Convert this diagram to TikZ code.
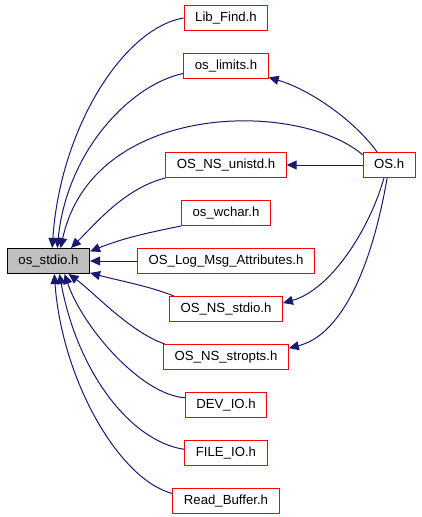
\documentclass[tikz,border=0pt]{standalone}
\usepackage{fontspec}
\setmainfont{Liberation Sans}
\usepackage{xcolor}
\usepackage{tikz}
\usetikzlibrary{arrows.meta,positioning}
\definecolor{edgeblue}{HTML}{191970}
\definecolor{boxgray}{HTML}{BFBFBF}

\begin{document}
\begin{tikzpicture}[
  x=0.75pt, y=-0.75pt,
  node distance=16.5pt,
  every node/.style={font=\fontsize{9.9pt}{12pt}\selectfont,
                     text height=7.2pt, text depth=2.4pt},
  box/.style={draw=red, line width=0.75pt, inner xsep=8.25pt,
              minimum height=18.75pt},
  mainbox/.style={draw=black, fill=boxgray, line width=0.75pt,
                  inner xsep=8.25pt, minimum height=18.75pt},
  edge/.style={draw=edgeblue, line width=0.75pt,
               -{Triangle[length=7.5pt, width=6.75pt]}}
]
  \useasboundingbox (0,0) rectangle (421,517);

  % --- middle column -----------------------------------------------
  \node[box] (libfind) at (226,18) {Lib\_Find.h};
  \node[box, below=of libfind]         (oslimits) {os\_limits.h};
  \node[box, below=54.75pt of oslimits] (unistd)  {OS\_NS\_unistd.h};
  \node[box, below=of unistd]  (wchar)   {os\_wchar.h};
  \node[box, below=of wchar]   (logmsg)  {OS\_Log\_Msg\_Attributes.h};
  \node[box, below=of logmsg]  (nsstdio) {OS\_NS\_stdio.h};
  \node[box, below=of nsstdio] (stropts) {OS\_NS\_stropts.h};
  \node[box, below=of stropts] (devio)   {DEV\_IO.h};
  \node[box, below=of devio]   (fileio)  {FILE\_IO.h};
  \node[box, below=of fileio]  (readbuf) {Read\_Buffer.h};

  % --- left and right ----------------------------------------------
  \node[mainbox, left=35.25pt of logmsg] (stdio) {os\_stdio.h};
  \node[box, right=57pt of unistd]       (os)    {OS.h};

  % --- includes of os_stdio.h --------------------------------------
  \draw[edge] (libfind.west) .. controls +(-60,10) and +(8,-120) .. (stdio.74);
  \draw[edge] (oslimits.190) .. controls +(-50,10) and +(10,-100) .. (stdio.56);
  \draw[edge] (os.159) .. controls +(-64,-55) and +(32,-147) .. (stdio.47);
  \draw[edge] (unistd.south west) .. controls +(-40,10) and +(25,-25) .. (stdio.30);
  \draw[edge] (wchar.south west) .. controls +(-40,8) and +(30,-12) .. (stdio.13);
  \draw[edge] (logmsg.west) -- (stdio.east);
  \draw[edge] (nsstdio.166) .. controls +(-25,-10) and +(30,8) .. (stdio.-16);
  \draw[edge] (stropts.168) .. controls +(-35,-12) and +(25,18) .. (stdio.-33);
  \draw[edge] (devio.170) .. controls +(-44,-3) and +(18,53) .. (stdio.-39);
  \draw[edge] (fileio.175) .. controls +(-54,-8) and +(18,98) .. (stdio.-50);
  \draw[edge] (readbuf.172) .. controls +(-52,-13) and +(8,108) .. (stdio.-66);

  % --- includes from OS.h ------------------------------------------
  \draw[edge] (os.133) .. controls +(-23,-32) and +(41,12) .. (oslimits.-15);
  \draw[edge] (os.west) -- (unistd.east);
  \draw[edge] (os.248) .. controls +(-15,53) and +(47,-13) .. (nsstdio.6);
  \draw[edge] (os.261) .. controls +(-16,92) and +(52,-13) .. (stropts.8);
\end{tikzpicture}
\end{document}
